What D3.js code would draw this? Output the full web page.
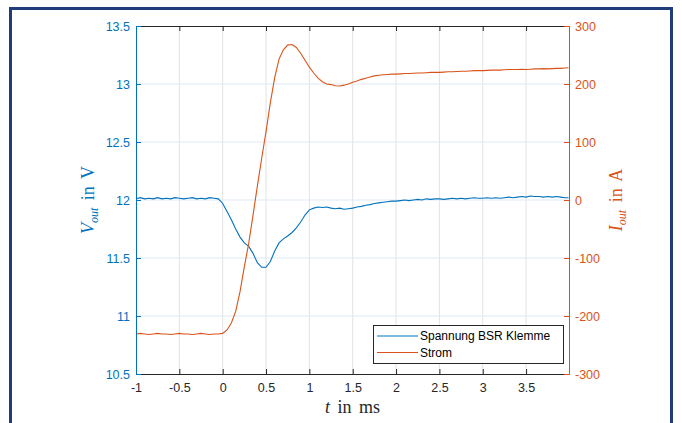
<!DOCTYPE html>
<html lang="de">
<head>
<meta charset="UTF-8">
<title>Spannung und Strom</title>
<style>
  body { margin: 0; background: #fff; }
  .tick text { font-family: "Liberation Sans", Arial, sans-serif; font-size: 12.5px; }
  .lbl { font-family: "Liberation Serif", "Times New Roman", serif; font-size: 18px; }
  .legend text { font-family: "Liberation Sans", Arial, sans-serif; font-size: 12px; fill: #000; }
</style>
</head>
<body>
<svg width="682" height="423"></svg>
<script src="https://d3js.org/d3.v7.min.js"></script>
<script>
// time axis in ms
const timeMs = [
  -1.00, -0.95, -0.90, -0.85, -0.80, -0.75, -0.70, -0.65, -0.60, -0.55,
  -0.50, -0.45, -0.40, -0.35, -0.30, -0.25, -0.20, -0.15, -0.10, -0.05,
  0.00, 0.05, 0.10, 0.15, 0.20, 0.25, 0.30, 0.35, 0.40, 0.45,
  0.50, 0.55, 0.60, 0.65, 0.70, 0.75, 0.80, 0.85, 0.90, 0.95,
  1.00, 1.05, 1.10, 1.15, 1.20, 1.25, 1.30, 1.35, 1.40, 1.45,
  1.50, 1.55, 1.60, 1.65, 1.70, 1.75, 1.80, 1.85, 1.90, 1.95,
  2.00, 2.05, 2.10, 2.15, 2.20, 2.25, 2.30, 2.35, 2.40, 2.45,
  2.50, 2.55, 2.60, 2.65, 2.70, 2.75, 2.80, 2.85, 2.90, 2.95,
  3.00, 3.05, 3.10, 3.15, 3.20, 3.25, 3.30, 3.35, 3.40, 3.45,
  3.50, 3.55, 3.60, 3.65, 3.70, 3.75, 3.80, 3.85, 3.90, 3.95, 3.99
];

// Spannung BSR Klemme (V)
const voltageV = [
  12.01, 12.02, 12.01, 12.015, 12.01, 12.02, 12.01, 12.015, 12.01, 12.02,
  12.015, 12.01, 12.015, 12.02, 12.01, 12.015, 12.01, 12.02, 12.015, 12.01,
  11.97, 11.90, 11.83, 11.75, 11.68, 11.63, 11.60, 11.54, 11.46, 11.42,
  11.42, 11.47, 11.56, 11.63, 11.665, 11.69, 11.72, 11.76, 11.81, 11.87,
  11.915, 11.93, 11.94, 11.935, 11.94, 11.93, 11.925, 11.93, 11.92, 11.925,
  11.93, 11.94, 11.945, 11.955, 11.96, 11.97, 11.975, 11.98, 11.985, 11.99,
  11.99, 11.995, 12.0, 11.995, 12.0, 12.005, 12.0, 12.01, 12.005, 12.01,
  12.01, 12.005, 12.01, 12.015, 12.01, 12.015, 12.01, 12.015, 12.02, 12.015,
  12.015, 12.02, 12.015, 12.02, 12.015, 12.02, 12.025, 12.02, 12.025, 12.03,
  12.025, 12.035, 12.03, 12.03, 12.025, 12.03, 12.025, 12.03, 12.025, 12.02, 12.02
];

// Strom (A)
const currentA = [
  -231, -230, -231, -232, -231, -230, -231, -231, -232, -231,
  -230, -231, -231, -232, -231, -230, -231, -232, -231, -231,
  -230, -224, -212, -192, -158, -115, -75, -26, 24, 72,
  118, 168, 211, 243, 259, 267, 268, 263, 253, 241,
  229, 219, 210, 204, 200, 199, 197, 196.5, 198, 200,
  203, 205, 208, 210, 212, 214, 215, 216, 216.5, 217,
  217, 217.5, 218, 218, 218.5, 219, 219, 219.5, 220, 220,
  220, 220.5, 221, 221, 221.5, 222, 222, 222.5, 223, 223,
  223, 223.5, 224, 224, 224, 224.5, 225, 225, 225, 225.5,
  225, 225.5, 226, 226, 226.5, 226, 226.5, 227, 227, 227.5, 228
];

const xTicks = [-1, -0.5, 0, 0.5, 1, 1.5, 2, 2.5, 3, 3.5];
const vTicks = [10.5, 11, 11.5, 12, 12.5, 13, 13.5];
const iTicks = [-300, -200, -100, 0, 100, 200, 300];
const seriesNames = ["Spannung BSR Klemme", "Strom"];

const blue = "#0072BD", orange = "#D95319", dark = "#262626";

const svg = d3.select("svg");
const L = 136, R = 569, T = 26, B = 374;

// figure frame
svg.append("rect")
    .attr("x", 10.5).attr("y", 8.5)
    .attr("width", 661).attr("height", 440)
    .attr("fill", "none")
    .attr("stroke", "#1f3d7a")
    .attr("stroke-width", 3);

const x = d3.scaleLinear().domain([-1, 3.995]).range([L, R]);
const yV = d3.scaleLinear().domain([10.5, 13.5]).range([B, T]);
const yI = d3.scaleLinear().domain([-300, 300]).range([B, T]);

// grid
const grid = svg.append("g");
grid.selectAll("line.gx").data(xTicks.slice(1)).join("line")
    .attr("x1", d => x(d)).attr("x2", d => x(d))
    .attr("y1", T).attr("y2", B)
    .attr("stroke", "#e3e3e3").attr("stroke-width", 1);
grid.selectAll("line.gy").data(vTicks.slice(1, -1)).join("line")
    .attr("x1", L).attr("x2", R)
    .attr("y1", d => yV(d)).attr("y2", d => yV(d))
    .attr("stroke", "#dde9f4").attr("stroke-width", 1);

// lines
const lineV = d3.line().x((d, i) => x(timeMs[i])).y(d => yV(d));
const lineI = d3.line().x((d, i) => x(timeMs[i])).y(d => yI(d));

svg.append("path").datum(voltageV)
    .attr("d", lineV).attr("fill", "none")
    .attr("stroke", blue).attr("stroke-width", 1.1);
svg.append("path").datum(currentA)
    .attr("d", lineI).attr("fill", "none")
    .attr("stroke", orange).attr("stroke-width", 1.1);

// axes
const fmt = d => String(d);
const gx = svg.append("g").attr("transform", `translate(0,${B})`)
    .call(d3.axisBottom(x).tickValues(xTicks).tickFormat(fmt).tickSizeInner(-5).tickSizeOuter(0).tickPadding(9));
const gxTop = svg.append("g").attr("transform", `translate(0,${T})`)
    .call(d3.axisTop(x).tickValues(xTicks).tickFormat("").tickSizeInner(-5).tickSizeOuter(0));
[gx, gxTop].forEach(g => {
  g.select(".domain").attr("stroke", dark);
  g.selectAll(".tick line").attr("stroke", dark);
  g.selectAll(".tick text").attr("fill", dark);
});

const gl = svg.append("g").attr("transform", `translate(${L},0)`)
    .call(d3.axisLeft(yV).tickValues(vTicks).tickFormat(fmt).tickSizeInner(-5).tickSizeOuter(0).tickPadding(6));
gl.select(".domain").attr("stroke", blue);
gl.selectAll(".tick line").attr("stroke", blue);
gl.selectAll(".tick text").attr("fill", blue);

const gr = svg.append("g").attr("transform", `translate(${R},0)`)
    .call(d3.axisRight(yI).tickValues(iTicks).tickFormat(fmt).tickSizeInner(-5).tickSizeOuter(0).tickPadding(6));
gr.select(".domain").attr("stroke", orange);
gr.selectAll(".tick line").attr("stroke", orange);
gr.selectAll(".tick text").attr("fill", orange);

// axis labels
const xl = svg.append("text").attr("class", "lbl")
    .attr("x", (L + R) / 2).attr("y", 413)
    .attr("text-anchor", "middle").attr("fill", dark)
    .attr("word-spacing", "3px");
xl.append("tspan").attr("font-style", "italic").text("t");
xl.append("tspan").text(" in ms");

function yLabel(xPos, sym, unit, color) {
  const t = svg.append("text").attr("class", "lbl")
      .attr("transform", `translate(${xPos},${(T + B) / 2}) rotate(-90)`)
      .attr("text-anchor", "middle").attr("fill", color)
      .attr("word-spacing", "3px");
  t.append("tspan").attr("font-style", "italic").text(sym);
  t.append("tspan").attr("font-style", "italic").attr("font-size", "12px").attr("dy", 4).text("out");
  t.append("tspan").attr("dy", -4).text(" in " + unit);
}
yLabel(94, "V", "V", blue);
yLabel(622, "I", "A", orange);

// legend
const leg = svg.append("g").attr("class", "legend");
leg.append("rect")
    .attr("x", 373.5).attr("y", 325.5).attr("width", 190).attr("height", 38)
    .attr("fill", "#fff").attr("stroke", dark).attr("stroke-width", 1);
[blue, orange].forEach((c, i) => {
  const yy = 336 + i * 16.5;
  leg.append("line").attr("x1", 377).attr("x2", 418)
      .attr("y1", yy).attr("y2", yy)
      .attr("stroke", c).attr("stroke-width", 1.2);
  leg.append("text").attr("x", 420).attr("y", yy + 4.3).text(seriesNames[i]);
});
</script>
</body>
</html>
